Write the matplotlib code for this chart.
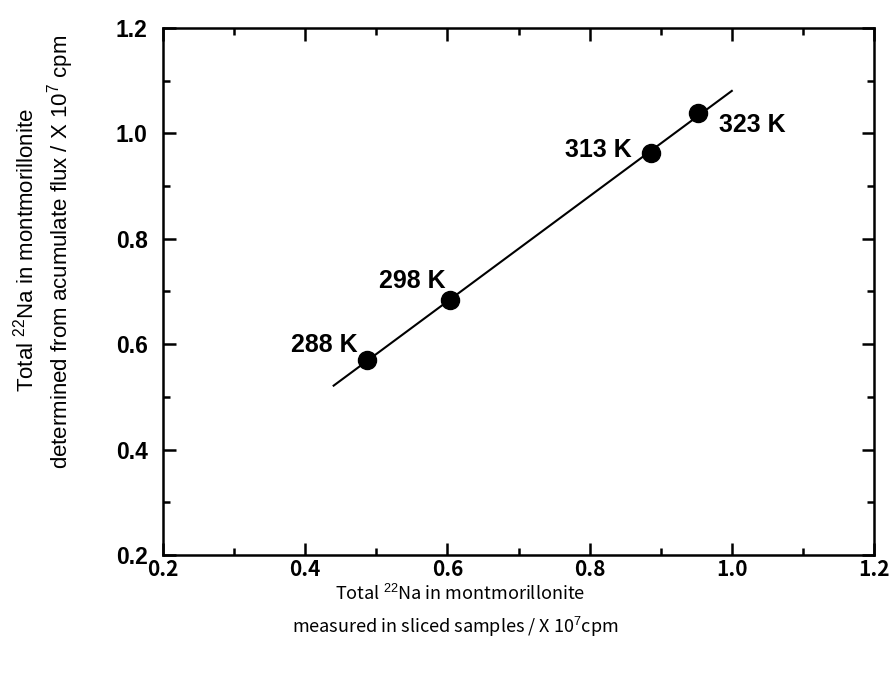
import numpy as np
import matplotlib
matplotlib.use("Agg")
import matplotlib.pyplot as plt
from matplotlib.ticker import MultipleLocator

plt.rcParams["font.family"] = ["Liberation Sans", "DejaVu Sans"]
plt.rcParams["mathtext.fontset"] = "custom"
plt.rcParams["mathtext.rm"] = "Liberation Sans"
plt.rcParams["mathtext.it"] = "Liberation Sans"

# Total 22Na in montmorillonite (x 10^7 cpm)
temperatures = ["288 K", "298 K", "313 K", "323 K"]
sliced = [0.487, 0.603, 0.887, 0.952]        # measured in sliced samples
flux = [0.570, 0.683, 0.962, 1.038]          # from accumulated flux
fit_range = [0.44, 1.0]

fig = plt.figure(figsize=(8.94, 6.73), dpi=100)
W, H = 894, 673
ax = fig.add_axes([163 / W, 1 - 555 / H, (874 - 163) / W, (555 - 28) / H])

# least-squares line through the four temperatures
slope, intercept = np.polyfit(sliced, flux, 1)
xf = np.array(fit_range)
ax.plot(xf, slope * xf + intercept, color="black", lw=1.5, zorder=2)
ax.plot(sliced, flux, "o", color="black", ms=13, zorder=3)

# label offsets in pixels: (dx, dy, horizontal alignment)
offsets = [(-9, 8, "right"), (-4, 12, "right"), (-20, -4, "right"), (21, -19, "left")]
for t, x, y, (dx, dy, ha) in zip(temperatures, sliced, flux, offsets):
    ax.annotate(t, (x, y), xytext=(dx, dy), textcoords="offset pixels",
                ha=ha, va="baseline", fontsize=18, fontweight="bold")

ax.set_xlim(0.2, 1.2)
ax.set_ylim(0.2, 1.2)
ax.xaxis.set_major_locator(MultipleLocator(0.2))
ax.xaxis.set_minor_locator(MultipleLocator(0.1))
ax.yaxis.set_major_locator(MultipleLocator(0.2))
ax.yaxis.set_minor_locator(MultipleLocator(0.1))
fmt = plt.FuncFormatter(lambda v, p: f"{v:.1f}")
ax.xaxis.set_major_formatter(fmt)
ax.yaxis.set_major_formatter(fmt)
ax.tick_params(which="both", direction="in", top=True, right=True, width=1.8)
ax.tick_params(which="major", length=9)
ax.tick_params(which="minor", length=5)
ax.tick_params(axis="x", which="major", pad=3)
ax.tick_params(axis="y", which="major", pad=11)
xfont = ["Noto Sans CJK JP", "Liberation Sans"]
for lab in ax.get_xticklabels():
    lab.set_fontfamily(xfont)
    lab.set_fontsize(15)
    lab.set_fontweight("bold")
for lab in ax.get_yticklabels():
    lab.set_fontsize(16.5)
    lab.set_fontweight("bold")
for s in ax.spines.values():
    s.set_linewidth(1.8)

fig.text(26 / W, 1 - 250 / H, r"Total $^{22}$Na in montmorillonite",
         rotation=90, ha="center", va="center", fontsize=16)
fig.text(61 / W, 1 - 252 / H, r"determined from acumulate flux / X 10$^{7}$ cpm",
         rotation=90, ha="center", va="center", fontsize=16)
fig.text(460 / W, 1 - 594 / H, r"Total $^{22}$Na in montmorillonite",
         ha="center", va="center", fontsize=13, family=xfont)
fig.text(455 / W, 1 - 627 / H, r"measured in sliced samples / X 10$^{7}$cpm",
         ha="center", va="center", fontsize=13, family=xfont)

fig.savefig("out.png", dpi=100)
